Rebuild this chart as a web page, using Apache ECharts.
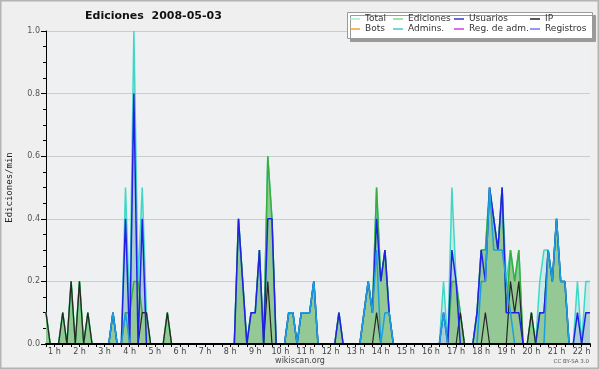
<!DOCTYPE html>
<html><head><meta charset="utf-8">
<script src="https://cdn.jsdelivr.net/npm/echarts@6/dist/echarts.min.js"></script>
<style>html,body{margin:0;padding:0;background:#efefef}#c{width:600px;height:370px}</style>
</head><body><div id="c"></div>
<script>
// 10-minute slots, first slot at 0:40, values in ediciones/min
const firstSlotMin = 40, slotStepMin = 10;
const hourLabels = ['1 h','2 h','3 h','4 h','5 h','6 h','7 h','8 h','9 h','10 h','11 h','12 h','13 h','14 h','15 h','16 h','17 h','18 h','19 h','20 h','21 h','22 h'];
const total = [
 0.1,0,0,0,0.1,0,0.2,0,0.2,0,
 0.1,0,0,0,0,0,0.1,0,0,0.5,
 0.1,1.0,0.2,0.5,0.1,0,0,0,0,0.1,
 0,0,0,0,0,0,0,0,0,0,
 0,0,0,0,0,0,0.4,0.2,0,0.1,
 0.1,0.3,0,0.6,0.4,0,0,0,0.1,0.1,
 0,0.1,0.1,0.1,0.2,0,0,0,0,0,
 0.1,0,0,0,0,0,0.1,0.2,0.1,0.5,
 0.2,0.3,0.1,0,0,0,0,0,0,0,
 0,0,0,0,0,0.2,0,0.5,0.2,0.1,
 0,0,0,0.1,0.3,0.3,0.5,0.4,0.3,0.5,
 0.2,0.3,0.2,0.3,0,0,0.1,0,0.2,0.3,
 0.3,0.2,0.4,0.2,0.2,0,0,0.2,0,0.2,
 0.2];
const ediciones = [
 0.1,0,0,0,0.1,0,0.2,0,0.2,0,
 0.1,0,0,0,0,0,0.1,0,0,0.1,
 0.1,0.2,0.2,0.1,0.1,0,0,0,0,0.1,
 0,0,0,0,0,0,0,0,0,0,
 0,0,0,0,0,0,0.4,0.2,0,0.1,
 0.1,0.3,0,0.6,0.4,0,0,0,0.1,0.1,
 0,0.1,0.1,0.1,0.2,0,0,0,0,0,
 0.1,0,0,0,0,0,0.1,0.2,0.1,0.5,
 0.2,0.3,0.1,0,0,0,0,0,0,0,
 0,0,0,0,0,0,0,0.2,0.2,0.1,
 0,0,0,0.1,0.3,0.3,0.5,0.4,0.3,0.5,
 0.1,0.3,0.2,0.3,0,0,0.1,0,0.1,0.1,
 0.3,0.2,0.4,0.2,0.2,0,0,0,0,0,
 0];
const usuarios = [
 0,0,0,0,0,0,0,0,0,0,
 0,0,0,0,0,0,0.1,0,0,0.4,
 0,0.8,0,0.4,0,0,0,0,0,0,
 0,0,0,0,0,0,0,0,0,0,
 0,0,0,0,0,0,0.4,0.2,0,0.1,
 0.1,0.3,0,0.4,0.4,0,0,0,0.1,0.1,
 0,0.1,0.1,0.1,0.2,0,0,0,0,0,
 0.1,0,0,0,0,0,0.1,0.2,0.1,0.4,
 0.2,0.3,0.1,0,0,0,0,0,0,0,
 0,0,0,0,0,0.1,0,0.3,0.2,0,
 0,0,0,0.1,0.3,0.2,0.5,0.4,0.3,0.5,
 0.1,0.1,0.1,0.1,0,0,0,0,0.1,0.1,
 0.3,0.2,0.4,0.2,0.2,0,0,0.1,0,0.1,
 0.1];
const ip = [
 0.1,0,0,0,0.1,0,0.2,0,0.2,0,
 0.1,0,0,0,0,0,0,0,0,0,
 0,0,0,0.1,0.1,0,0,0,0,0.1,
 0,0,0,0,0,0,0,0,0,0,
 0,0,0,0,0,0,0,0,0,0,
 0,0,0,0.2,0,0,0,0,0,0,
 0,0,0,0,0,0,0,0,0,0,
 0,0,0,0,0,0,0,0,0,0.1,
 0,0,0,0,0,0,0,0,0,0,
 0,0,0,0,0,0,0,0,0,0.1,
 0,0,0,0,0,0.1,0,0,0,0,
 0,0.2,0.1,0.2,0,0,0.1,0,0,0,
 0,0,0,0,0,0,0,0,0,0,
 0];
const admins = [
 0,0,0,0,0,0,0,0,0,0,
 0,0,0,0,0,0,0.1,0,0,0.1,
 0,0,0,0,0,0,0,0,0,0,
 0,0,0,0,0,0,0,0,0,0,
 0,0,0,0,0,0,0,0,0,0,
 0,0,0,0,0,0,0,0,0.1,0.1,
 0,0.1,0.1,0.1,0.2,0,0,0,0,0,
 0,0,0,0,0,0,0.1,0.2,0.1,0.3,
 0,0.1,0.1,0,0,0,0,0,0,0,
 0,0,0,0,0,0.1,0,0,0,0,
 0,0,0,0,0.2,0.2,0.5,0.3,0.3,0.3,
 0.2,0.1,0,0,0,0,0,0,0,0,
 0.3,0.2,0.4,0.2,0.2,0,0,0,0,0,
 0];
const bots = [];
const regAdm = [];
const registros = [];

const pairs = arr => arr.map((v, i) => [firstSlotMin + slotStepMin * i, v]);
const FONT = 'DejaVu Sans';
const C = {
  total: '#3fd8c6', ediciones: '#3aae3a', usuarios: '#2020e6', ip: '#262626',
  bots: '#f3a033', admins: '#1c9fdc', regAdm: '#d23fdc', registros: '#7474f0'
};
const legendCol = (names, colors, left) => ({
  orient: 'vertical', left: left, top: 14, padding: 0, itemGap: 0,
  itemWidth: 10, itemHeight: 1.5, icon: 'rect', selectedMode: false,
  textStyle: { fontFamily: FONT, fontSize: 9, color: '#333', lineHeight: 10 },
  data: names.map((n, k) => ({ name: n, itemStyle: { color: colors[k] } }))
});
const lineSeries = (name, data, color, width) => ({
  name: name, type: 'line', data: pairs(data), showSymbol: false, symbol: 'none',
  lineStyle: { color: color, width: width }, itemStyle: { color: color },
  silent: true, z: 3
});
const areaSeries = (name, data, fill) => ({
  name: name, type: 'line', data: pairs(data), showSymbol: false, symbol: 'none',
  lineStyle: { width: 0 }, areaStyle: { color: fill, opacity: 1 }, silent: true, z: 2
});

const chart = echarts.init(document.getElementById('c'), null, { renderer: 'canvas' });
chart.setOption({
  animation: false,
  backgroundColor: '#efefef',
  title: { text: 'Ediciones  2008-05-03', left: 85, top: 11, padding: 0,
    textStyle: { fontFamily: FONT, fontSize: 11, fontWeight: 'bold', color: '#111' } },
  grid: { left: 46, right: 10, top: 31, bottom: 26, show: true, backgroundColor: '#eef0f2', borderWidth: 0,
    containLabel: false, outerBoundsMode: 'none' },
  legend: [
    legendCol(['Total', 'Bots'], ['#a6e8e0', C.bots], 350),
    legendCol(['Ediciones', 'Admins.'], ['#8fd08f', '#4cc6d8'], 393),
    legendCol(['Usuarios', 'Reg. de adm.'], ['#3434dc', C.regAdm], 454),
    legendCol(['IP', 'Registros'], ['#222222', C.registros], 530)
  ],
  xAxis: {
    type: 'value', min: 40, max: 1340, interval: 20, z: 10,
    axisLine: { show: true, lineStyle: { color: '#000', width: 2 } },
    axisTick: { show: true, length: 3, lineStyle: { color: '#000', width: 1 } },
    splitLine: { show: false },
    axisLabel: { margin: 4, fontFamily: FONT, fontSize: 8, color: '#444',
      formatter: v => (v % 60 === 0 && hourLabels[v / 60 - 1]) ? hourLabels[v / 60 - 1] : '' }
  },
  yAxis: {
    type: 'value', min: 0, max: 1, interval: 0.2,
    name: 'Ediciones/min', nameLocation: 'middle', nameGap: 32, nameRotate: 90,
    nameTextStyle: { fontFamily: 'DejaVu Sans Mono', fontSize: 9, color: '#222' },
    axisLine: { show: true, lineStyle: { color: '#000', width: 1 } },
    axisTick: { show: true, length: 5, lineStyle: { color: '#000' } },
    minorTick: { show: true, splitNumber: 4, length: 3, lineStyle: { color: '#000' } },
    splitLine: { show: true, lineStyle: { color: '#cccccc', width: 1 } },
    axisLabel: { margin: 6, fontFamily: FONT, fontSize: 8, color: '#555', formatter: v => v.toFixed(1) }
  },
  graphic: [
    { type: 'rect', z: 3, shape: { x: 347.5, y: 12.5, width: 245, height: 26 },
      style: { fill: '#ffffff', stroke: '#9a9a9a', lineWidth: 1,
        shadowColor: '#9a9a9a', shadowOffsetX: 3, shadowOffsetY: 3, shadowBlur: 0 } },
    { type: 'text', z: 3, style: { text: 'wikiscan.org', x: 300, y: 361, align: 'center', verticalAlign: 'middle',
        font: '8px "DejaVu Sans"', fill: '#444' } },
    { type: 'text', z: 3, style: { text: 'CC BY-SA 3.0', x: 589, y: 362, align: 'right', verticalAlign: 'middle',
        font: '5.5px "DejaVu Sans"', fill: '#555' } },
    { type: 'rect', z: 3, silent: true, shape: { x: 0.5, y: 0.5, width: 598, height: 368 },
      style: { fill: 'none', stroke: '#b4b4b4', lineWidth: 2 } }
  ],
  series: [
    areaSeries('Total fondo', total, 'rgba(110,215,195,0.25)'),
    areaSeries('Usuarios fondo', usuarios, 'rgba(40,90,140,0.2)'),
    areaSeries('Ediciones fondo', ediciones, '#94c995'),
    lineSeries('Total', total, C.total, 1.5),
    lineSeries('Ediciones', ediciones, C.ediciones, 1.5),
    lineSeries('IP', ip, C.ip, 1.2),
    lineSeries('Usuarios', usuarios, C.usuarios, 1.5),
    lineSeries('Admins.', admins, C.admins, 1.5),
    lineSeries('Bots', bots, C.bots, 1.5),
    lineSeries('Reg. de adm.', regAdm, C.regAdm, 1.5),
    lineSeries('Registros', registros, C.registros, 1.5)
  ]
});
</script></body></html>
